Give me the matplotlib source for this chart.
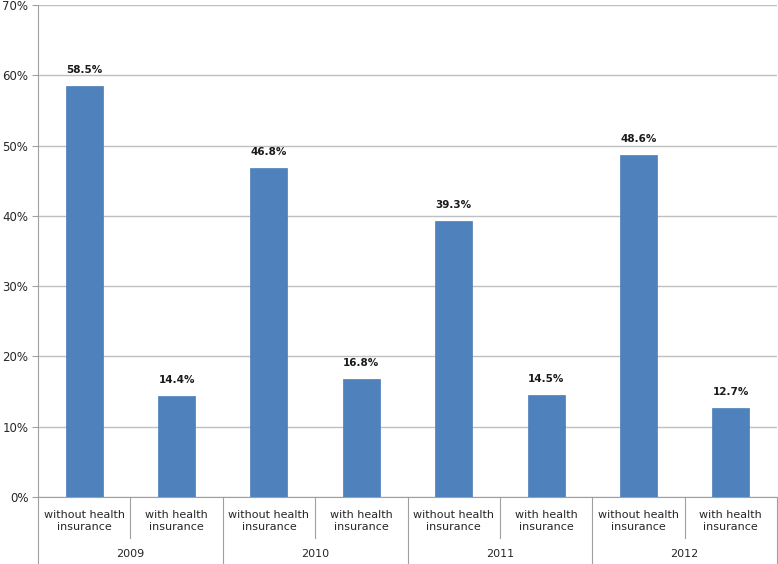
import matplotlib.pyplot as plt
import numpy as np

years = ["2009", "2010", "2011", "2012"]
groups = ["without health\ninsurance", "with health\ninsurance"]
without_ins = [58.5, 46.8, 39.3, 48.6]
with_ins = [14.4, 16.8, 14.5, 12.7]
yticks = [0, 10, 20, 30, 40, 50, 60, 70]

values = []
labels = []
for a, b in zip(without_ins, with_ins):
    values += [a, b]
    labels += groups

plt.rcParams['font.family'] = ['DejaVu Sans']
fig = plt.figure(figsize=(7.78, 5.64), dpi=100)
W, H = 778, 564
ax = fig.add_axes([38 / W, (H - 497) / H, (777 - 38) / W, (497 - 5) / H])

x = np.arange(len(values))
ax.bar(x, values, width=0.4, color="#4F81BD", edgecolor="#4A7EBB", linewidth=0.5, zorder=3)
for xi, v in zip(x, values):
    ax.annotate(f"{v:.1f}%", (xi, v), xytext=(0, 8), textcoords="offset points",
                ha="center", va="bottom", fontsize=7.5, fontweight="bold", color="#1a1a1a")

ax.set_xlim(-0.5, len(values) - 0.5)
ax.set_ylim(0, 70)
ax.set_yticks(yticks)
ax.set_yticklabels([f"{t}%" for t in yticks], fontsize=8.5, color="#262626")
ax.yaxis.grid(True, color="#C0C0C0", linewidth=1, zorder=0)
ax.tick_params(axis="y", length=4, color="#A0A0A0", pad=3)
ax.set_xticks([])
for s in ["top", "right"]:
    ax.spines[s].set_visible(False)
ax.spines["left"].set_color("#A0A0A0")
ax.spines["bottom"].set_color("#A0A0A0")

trans = ax.get_xaxis_transform()
axh = (497 - 5)
def py(p):
    # pixels below axis -> axes fraction
    return -p / axh

for xi, lab in zip(x, labels):
    ax.text(xi, py(24), lab, transform=trans, ha="center", va="center",
            fontsize=8, color="#262626", linespacing=1.35)
for i, yr in enumerate(years):
    ax.text(2 * i + 0.5, py(57), yr, transform=trans, ha="center", va="center",
            fontsize=8, color="#262626")

for k in range(len(values) + 1):
    xb = k - 0.5
    bottom = py(67) if k % 2 == 0 else py(41)
    ax.plot([xb, xb], [0, bottom], transform=trans, color="#A0A0A0",
            linewidth=0.8, clip_on=False)

fig.savefig("out.png", dpi=100)
